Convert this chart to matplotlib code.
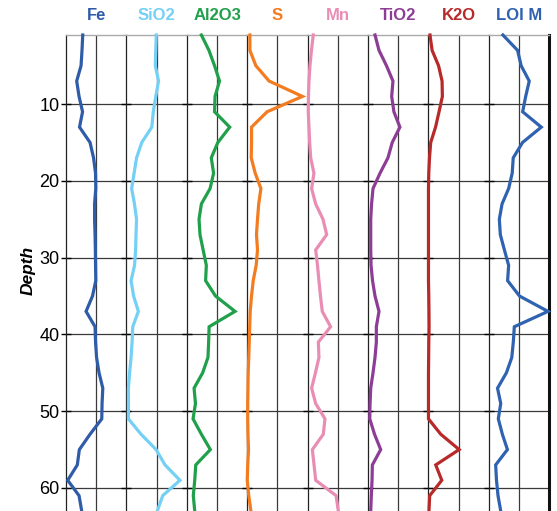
import matplotlib
matplotlib.use('Agg')
import matplotlib.pyplot as plt
import numpy as np

plt.rcParams['font.family'] = ['Liberation Sans', 'DejaVu Sans']

# sample depths (every 2 units)
depth = np.arange(1, 64, 2)

# each track is read on a 0-100 scale across its width
fe = [27.7, 26.5, 24.9, 17.7, 21.6, 27.4, 22.4, 39.8, 45.6, 48.9, 49.3, 47.3, 47.3, 48.1, 48.6, 48.9,
      49.3, 43.9, 33.2, 48.1, 48.9, 50.6, 54.7, 60.9, 59.7, 59.2, 39.8, 22.1, 18.7, 2.8, 21.6, 26.0]
sio2 = [49.4, 48.6, 47.8, 53.2, 48.6, 44.5, 42.0, 25.4, 16.8, 12.7, 8.7, 13.3, 16.8, 15.9, 15.2, 13.5,
        7.7, 11.9, 19.8, 10.5, 9.4, 7.7, 5.3, 3.3, 3.3, 3.3, 24.2, 49.1, 63.9, 88.6, 60.1, 51.1]
al2o3 = [24.1, 36.6, 45.9, 54.1, 46.7, 45.9, 71.0, 51.3, 40.5, 44.3, 38.5, 24.1, 20.2, 21.8, 27.0, 32.3,
         31.1, 47.5, 79.8, 36.9, 36.1, 35.0, 26.2, 12.0, 14.3, 10.3, 24.1, 38.9, 14.8, 13.1, 10.7, 13.1]
s = [4.4, 4.4, 14.3, 36.2, 91.4, 32.9, 7.1, 7.1, 6.6, 13.2, 22.6, 19.0, 17.0, 15.3, 17.0, 14.8,
     9.9, 7.1, 4.9, 4.1, 3.3, 2.5, 1.6, 1.2, 0.8, 0.8, 1.2, 2.1, 0.8, 0.0, 2.5, 6.1]
mn = [9.3, 6.3, 3.8, 2.2, 1.3, 1.0, 2.2, 3.3, 5.0, 10.4, 6.6, 13.3, 25.4, 31.5, 13.3, 16.3,
      18.7, 21.2, 24.2, 38.0, 17.7, 18.7, 12.9, 6.6, 13.3, 28.7, 25.9, 7.8, 10.6, 13.3, 47.1, 50.7]
tio2 = [11.5, 18.1, 30.5, 41.2, 39.1, 42.8, 52.7, 40.0, 32.9, 19.8, 8.2, 5.8, 4.4, 4.4, 4.4, 4.9,
        7.4, 11.5, 18.1, 13.7, 13.7, 11.5, 8.2, 4.4, 3.3, 2.8, 10.7, 20.9, 7.1, 6.6, 5.4, 4.4]
k2o = [2.5, 6.0, 16.7, 22.5, 23.0, 17.5, 11.7, 3.7, 1.7, 0.5, 0.0, 0.0, 0.0, 0.0, 0.0, 0.0,
       0.0, 0.5, 0.8, 1.0, 0.5, 0.3, 0.0, 0.0, 0.0, 0.0, 20.3, 50.8, 12.0, 22.0, 2.0, 0.8]
loi = [23.2, 47.5, 53.4, 66.8, 60.9, 55.9, 86.7, 55.7, 40.3, 38.6, 32.7, 21.8, 17.3, 18.9, 25.7, 32.7,
       31.0, 50.7, 97.8, 42.1, 40.4, 37.9, 29.0, 14.3, 19.6, 15.6, 22.3, 30.7, 11.2, 12.6, 15.1, 19.6]

names = ['Fe', 'SiO2', 'Al2O3', 'S', 'Mn', 'TiO2', 'K2O', 'LOI M']
series = [fe, sio2, al2o3, s, mn, tio2, k2o, loi]
colors = ['#2f5ca8', '#74d0f5', '#21a04b', '#f47c20', '#ea8db5', '#8e3d97', '#b82a2a', '#2f62b0']
depth_ticks = [10, 20, 30, 40, 50, 60]

W, H = 557, 511
fig = plt.figure(figsize=(W / 100, H / 100), dpi=100)
left, right, top = 66 / W, 549.3 / W, 1 - 35 / H
tw = (right - left) / len(names)

grid_c = '#3a3a3a'
for i, (name, vals, c) in enumerate(zip(names, series, colors)):
    ax = fig.add_axes([left + i * tw, 0, tw, top])
    # not clipped, so curves sitting on the track edge stay fully visible
    ax.plot(vals, depth, color=c, lw=2.3, solid_joinstyle='miter', clip_on=False, zorder=3)
    ax.set_xlim(0, 100)
    ax.set_ylim(63, 1)
    ax.set_xticks([50])
    ax.set_yticks(depth_ticks)
    ax.grid(True, color=grid_c, lw=0.9)
    ax.tick_params(axis='x', length=0, labelbottom=False)
    ax.tick_params(axis='y', direction='inout', length=7, width=1, color='black',
                   labelsize=13, pad=1, labelleft=(i == 0))
    ax.spines['bottom'].set_visible(False)
    ax.spines['top'].set_color('#aaaaaa')
    ax.spines['top'].set_linewidth(1)
    ax.spines['left'].set_color('#222222')
    ax.spines['left'].set_linewidth(0.9)
    if i == len(names) - 1:
        ax.spines['right'].set_color('#111111')
        ax.spines['right'].set_linewidth(2.2)
    else:
        ax.spines['right'].set_visible(False)
    fig.text(left + (i + 0.5) * tw, 1 - 16 / H, name, color=c, fontsize=12,
             fontweight='bold', ha='center', va='center')

fig.text(28 / W, 1 - 270 / H, 'Depth', rotation=90, fontsize=12.5, fontweight='bold',
         fontstyle='italic', ha='center', va='center')

fig.savefig('out.png', dpi=100)
